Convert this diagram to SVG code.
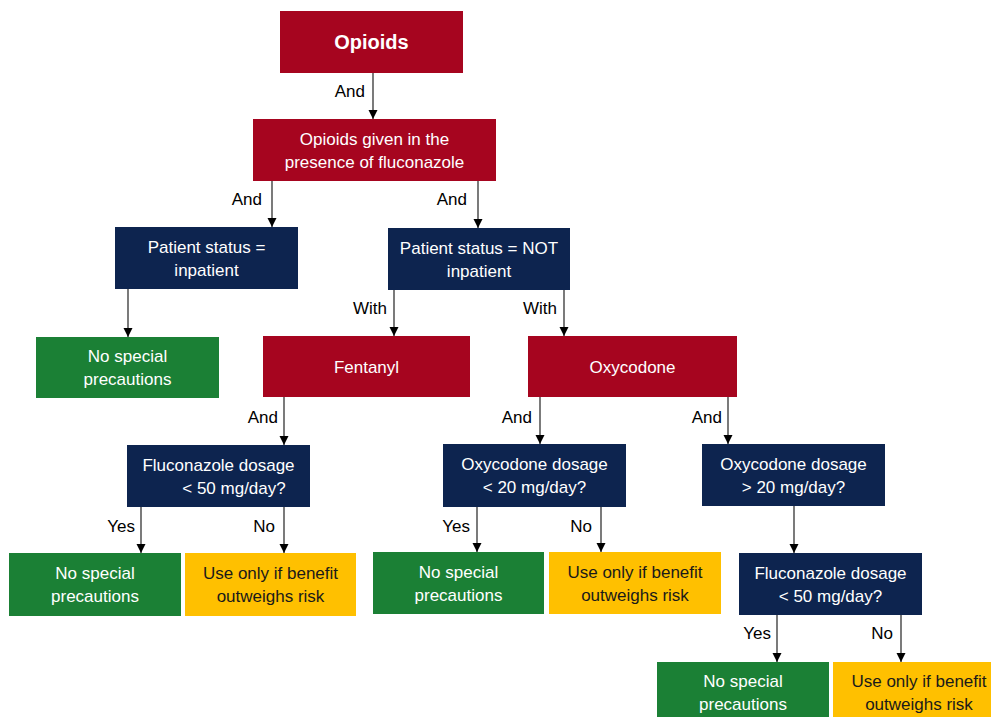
<svg xmlns="http://www.w3.org/2000/svg" width="991" height="717" viewBox="0 0 991 717">
<defs>
<marker id="ah" markerUnits="userSpaceOnUse" markerWidth="10" markerHeight="10" refX="9" refY="4.5" orient="auto">
<path d="M0,0 L9,4.5 L0,9 z" fill="#000"/>
</marker>
<style>
.red{fill:#A6051F}
.navy{fill:#0D244F}
.green{fill:#1B8035}
.yellow{fill:#FFC000}
.t{font-family:"Liberation Sans",Arial,sans-serif;font-size:17px;text-anchor:middle;fill:#fff}
.dk{fill:#1a1a1a}
.b{font-weight:bold;font-size:20px}
.lbl{font-family:"Liberation Sans",Arial,sans-serif;font-size:17px;text-anchor:end;fill:#000}
.c{stroke:#222;stroke-width:1.2;fill:none;marker-end:url(#ah)}
</style>
</defs>
<rect width="991" height="717" fill="#fff"/>
<g id="connectors">
<line class="c" x1="373" y1="73" x2="373" y2="119"/>
<line class="c" x1="272" y1="181" x2="272" y2="227"/>
<line class="c" x1="478" y1="181" x2="478" y2="228"/>
<line class="c" x1="128" y1="289" x2="128" y2="337"/>
<line class="c" x1="394" y1="290" x2="394" y2="336"/>
<line class="c" x1="564" y1="290" x2="564" y2="336"/>
<line class="c" x1="284" y1="397" x2="284" y2="445"/>
<line class="c" x1="540" y1="397" x2="540" y2="444"/>
<line class="c" x1="728" y1="397" x2="728" y2="444"/>
<line class="c" x1="141" y1="507" x2="141" y2="553"/>
<line class="c" x1="284" y1="507" x2="284" y2="553"/>
<line class="c" x1="477" y1="507" x2="477" y2="552"/>
<line class="c" x1="601" y1="507" x2="601" y2="552"/>
<line class="c" x1="794" y1="506" x2="794" y2="553"/>
<line class="c" x1="777" y1="615" x2="777" y2="662"/>
<line class="c" x1="901" y1="615" x2="901" y2="662"/>
<text class="lbl" x="365" y="97">And</text>
<text class="lbl" x="262" y="205">And</text>
<text class="lbl" x="467" y="205">And</text>
<text class="lbl" x="387" y="314">With</text>
<text class="lbl" x="557" y="314">With</text>
<text class="lbl" x="278" y="423">And</text>
<text class="lbl" x="532" y="423">And</text>
<text class="lbl" x="722" y="423">And</text>
<text class="lbl" x="135" y="532">Yes</text>
<text class="lbl" x="275" y="532">No</text>
<text class="lbl" x="470" y="532">Yes</text>
<text class="lbl" x="592" y="532">No</text>
<text class="lbl" x="771" y="639">Yes</text>
<text class="lbl" x="893" y="639">No</text>
</g>
<g id="n1"><rect class="red" x="280" y="11" width="183" height="62"/><text class="t b" x="371.5" y="49">Opioids</text></g>
<g id="n2"><rect class="red" x="253" y="119" width="243" height="62"/><text class="t" x="374.5" y="145">Opioids given in the</text><text class="t" x="374.5" y="168">presence of fluconazole</text></g>
<g id="n3"><rect class="navy" x="115" y="227" width="183" height="62"/><text class="t" x="206.5" y="253">Patient status =</text><text class="t" x="206.5" y="276">inpatient</text></g>
<g id="n4"><rect class="navy" x="388" y="228" width="182" height="62"/><text class="t" x="479" y="254">Patient status = NOT</text><text class="t" x="479" y="277">inpatient</text></g>
<g id="n5"><rect class="green" x="36" y="337" width="183" height="61"/><text class="t" x="127.5" y="362">No special</text><text class="t" x="127.5" y="385">precautions</text></g>
<g id="n6"><rect class="red" x="263" y="336" width="207" height="61"/><text class="t" x="366.5" y="373">Fentanyl</text></g>
<g id="n7"><rect class="red" x="528" y="336" width="209" height="61"/><text class="t" x="632.5" y="373">Oxycodone</text></g>
<g id="n8"><rect class="navy" x="127" y="445" width="183" height="62"/><text class="t" x="218.5" y="471">Fluconazole dosage</text><text class="t" x="234" y="494">&lt; 50 mg/day?</text></g>
<g id="n9"><rect class="navy" x="443" y="444" width="183" height="63"/><text class="t" x="534.5" y="470">Oxycodone dosage</text><text class="t" x="534.5" y="493">&lt; 20 mg/day?</text></g>
<g id="n10"><rect class="navy" x="702" y="444" width="183" height="62"/><text class="t" x="793.5" y="470">Oxycodone dosage</text><text class="t" x="793.5" y="493">&gt; 20 mg/day?</text></g>
<g id="n11"><rect class="green" x="9" y="553" width="172" height="63"/><text class="t" x="95" y="579">No special</text><text class="t" x="95" y="602">precautions</text></g>
<g id="n12"><rect class="yellow" x="185" y="553" width="171" height="63"/><text class="t dk" x="270.5" y="579">Use only if benefit</text><text class="t dk" x="270.5" y="602">outweighs risk</text></g>
<g id="n13"><rect class="green" x="373" y="552" width="171" height="62"/><text class="t" x="458.5" y="578">No special</text><text class="t" x="458.5" y="601">precautions</text></g>
<g id="n14"><rect class="yellow" x="549" y="552" width="172" height="62"/><text class="t dk" x="635" y="578">Use only if benefit</text><text class="t dk" x="635" y="601">outweighs risk</text></g>
<g id="n15"><rect class="navy" x="739" y="553" width="183" height="62"/><text class="t" x="830.5" y="579">Fluconazole dosage</text><text class="t" x="830.5" y="602">&lt; 50 mg/day?</text></g>
<g id="n16"><rect class="green" x="657" y="662" width="172" height="56"/><text class="t" x="743" y="687">No special</text><text class="t" x="743" y="710">precautions</text></g>
<g id="n17"><rect class="yellow" x="833" y="662" width="160" height="56"/><text class="t dk" x="919" y="687">Use only if benefit</text><text class="t dk" x="919" y="710">outweighs risk</text></g>
</svg>
